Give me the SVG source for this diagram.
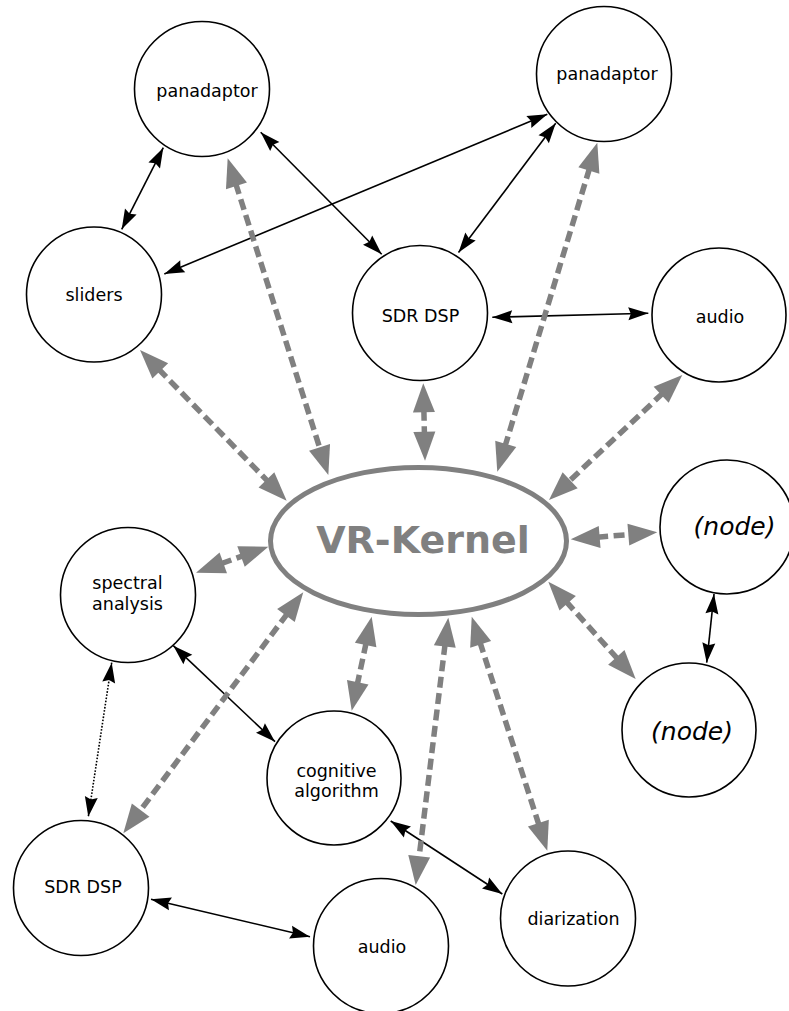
<svg xmlns="http://www.w3.org/2000/svg" width="789" height="1011" viewBox="0 0 789 1011">
<style>
.n{fill:#fff;stroke:#000;stroke-width:1.6}
.t{font-family:"DejaVu Sans","Liberation Sans",sans-serif;font-size:17.5px;fill:#000;text-anchor:middle}
.i{font-family:"DejaVu Sans","Liberation Sans",sans-serif;font-size:25px;font-style:italic;fill:#000;text-anchor:middle}
.k{font-family:"DejaVu Sans","Liberation Sans",sans-serif;font-size:38px;font-weight:bold;fill:#808080;text-anchor:middle}
.b{fill:none;stroke:#000;stroke-width:1.6;marker-start:url(#ab);marker-end:url(#ab)}
.d{stroke-dasharray:1.6,1.6}
.g{fill:none;stroke:#808080;stroke-width:5.5;stroke-dasharray:11,5.5;marker-start:url(#ag);marker-end:url(#ag)}
</style>
<defs>
<marker id="ab" markerUnits="userSpaceOnUse" orient="auto-start-reverse" refX="0" refY="0" markerWidth="30" markerHeight="30" overflow="visible">
<path d="M0,0 L-20,-6.5 L-17.5,0 L-20,6.5 Z" fill="#000"/>
</marker>
<marker id="ag" markerUnits="userSpaceOnUse" orient="auto-start-reverse" refX="0" refY="0" markerWidth="40" markerHeight="40" overflow="visible">
<path d="M10,0 L-19,-11 L-19,11 Z" fill="#808080"/>
</marker>
</defs>
<rect width="789" height="1011" fill="#fff"/>
<g id="kernel">
<ellipse cx="418.5" cy="541" rx="148" ry="73.5" fill="#fff" stroke="#808080" stroke-width="5"/>
<text class="k" x="423" y="553">VR-Kernel</text>
</g>
<g id="panadaptor1"><circle class="n" cx="202" cy="89" r="67.5"/><text class="t" x="207" y="97">panadaptor</text></g>
<g id="panadaptor2"><circle class="n" cx="604" cy="74" r="67.5"/><text class="t" x="607" y="80">panadaptor</text></g>
<g id="sliders"><circle class="n" cx="94" cy="294.5" r="67.5"/><text class="t" x="94" y="301">sliders</text></g>
<g id="sdrdsp1"><circle class="n" cx="420" cy="313" r="67.5"/><text class="t" x="420.5" y="321.5">SDR DSP</text></g>
<g id="audio1"><circle class="n" cx="719" cy="315" r="67"/><text class="t" x="720" y="323">audio</text></g>
<g id="node1"><circle class="n" cx="727" cy="527" r="67"/><text class="i" x="734.5" y="535">(node)</text></g>
<g id="node2"><circle class="n" cx="689" cy="730" r="67"/><text class="i" x="692" y="740">(node)</text></g>
<g id="spectral"><circle class="n" cx="128" cy="595" r="67.5"/><text class="t" x="127.5" y="589">spectral</text><text class="t" x="127.5" y="609.5">analysis</text></g>
<g id="cognitive"><circle class="n" cx="334" cy="778" r="67"/><text class="t" x="336.5" y="776.5">cognitive</text><text class="t" x="336.5" y="797">algorithm</text></g>
<g id="sdrdsp2"><circle class="n" cx="81" cy="888" r="67.5"/><text class="t" x="83" y="892.5">SDR DSP</text></g>
<g id="diarization"><circle class="n" cx="568" cy="918.5" r="67.5"/><text class="t" x="573.5" y="925">diarization</text></g>
<g id="audio2"><circle class="n" cx="381" cy="946" r="67.5"/><text class="t" x="382" y="952.5">audio</text></g>
<g id="connectors">
<path class="b" d="M163.3,147.7 L121.7,229.3"/>
<path class="b" d="M260.7,132.3 L381.7,254.3"/>
<path class="b" d="M164.3,274 L547.3,114.3"/>
<path class="b" d="M555.7,123.3 L458.5,252.5"/>
<path class="b" d="M492.3,317.3 L648.3,313.3"/>
<path class="b" d="M714,594 L706.7,662.7"/>
<path class="b" d="M173.3,645.7 L275,741.7"/>
<path class="b d" d="M111.7,662.7 L88.3,816.7"/>
<path class="b" d="M151,899.3 L310,936.7"/>
<path class="b" d="M390.7,821 L502.3,894"/>
<path class="g" d="M230.7,167.8 L325.3,465.5"/>
<path class="g" d="M147,357.2 L279.7,493.5"/>
<path class="g" d="M423.5,393.3 L424.8,450.7"/>
<path class="g" d="M594.4,152.3 L500.2,462.1"/>
<path class="g" d="M675,381.8 L556.3,493.2"/>
<path class="g" d="M580.7,538.5 L647.3,533.1"/>
<path class="g" d="M555,589.1 L629,671.6"/>
<path class="g" d="M205.4,569.3 L258.9,550.1"/>
<path class="g" d="M297.3,600.3 L129.3,825.3"/>
<path class="g" d="M369.6,626.5 L353.8,700.9"/>
<path class="g" d="M447.1,627.6 L416.9,875.1"/>
<path class="g" d="M474.8,626.2 L544.2,841.2"/>
</g>
</svg>
